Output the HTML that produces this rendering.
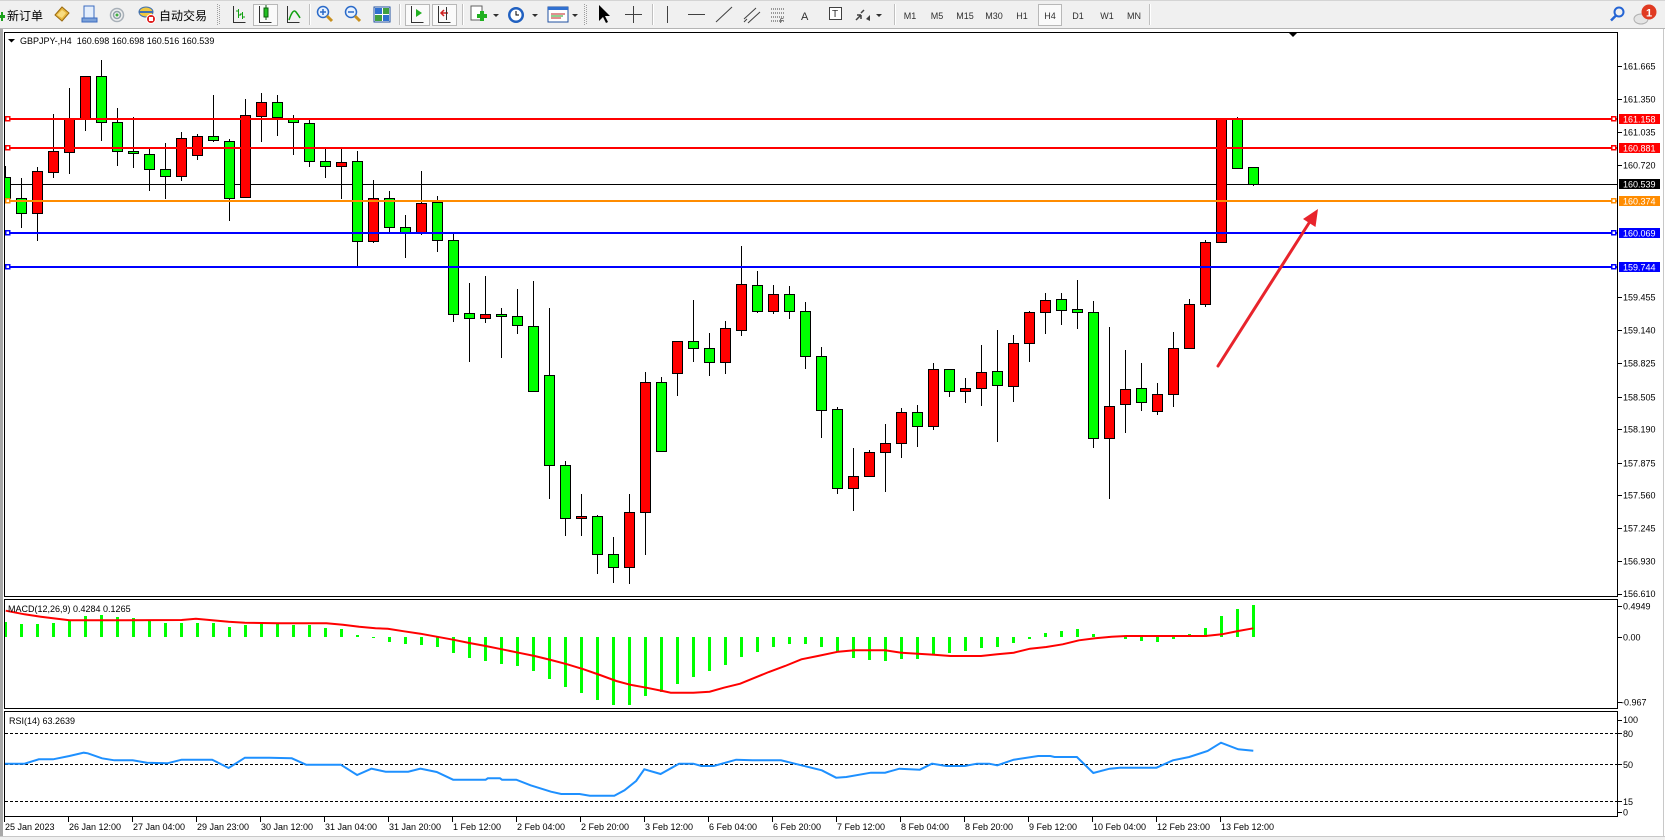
<!DOCTYPE html>
<html><head><meta charset="utf-8"><title>GBPJPY H4</title>
<style>
html,body{margin:0;padding:0;background:#fff;overflow:hidden;width:1665px;height:840px}
svg{display:block}
text{font-family:"Liberation Sans","Noto Sans CJK SC",sans-serif}
</style></head><body>
<svg width="1665" height="840" viewBox="0 0 1665 840" xmlns="http://www.w3.org/2000/svg">
<defs>
<clipPath id="cm"><rect x="5" y="33" width="1612" height="563"/></clipPath>
<clipPath id="cd"><rect x="5" y="600" width="1612" height="108"/></clipPath>
<clipPath id="cr"><rect x="5" y="712" width="1612" height="104"/></clipPath>
</defs>
<rect x="0" y="0" width="1665" height="840" fill="#fff"/>
<!-- toolbar -->
<rect x="0" y="0" width="1665" height="29" fill="#f0f0f0"/>
<line x1="0" y1="0.5" x2="1665" y2="0.5" stroke="#d4d4d4"/>
<line x1="0" y1="28.5" x2="1665" y2="28.5" stroke="#b4b4b4"/>
<g shape-rendering="crispEdges">
<rect x="0" y="29" width="3" height="808" fill="#a8a8a8"/>
<line x1="1663.5" y1="29" x2="1663.5" y2="836" stroke="#c8c8c8"/>
<rect x="0" y="836" width="1665" height="4" fill="#f0f0f0"/>
<line x1="0" y1="836.5" x2="1665" y2="836.5" stroke="#c8c8c8"/>
</g>
<!-- toolbar icons -->
<path d="M0 15h5v3H0z M1 12h2v9H1z" fill="#1aa01a"/>
<text x="7" y="20" font-size="12" fill="#000">新订单</text>
<polygon points="55,15 62,7 69,13 62,21" fill="#e8b840" stroke="#9a6a10"/>
<polygon points="57,15 62,10 66,13 62,18" fill="#f8dc80"/>
<rect x="84" y="6" width="10" height="12" fill="#e4eefc" stroke="#3c6cc0"/>
<path d="M82 18h15v4H82z" fill="#7aa0d8" stroke="#3c6cc0"/>
<circle cx="117" cy="15" r="6.5" fill="none" stroke="#a8b0b8" stroke-width="1.5"/>
<circle cx="117" cy="15" r="3.5" fill="none" stroke="#90a0a8" stroke-width="1.5"/>
<circle cx="117" cy="15" r="1.5" fill="#40b040"/>
<ellipse cx="146" cy="12" rx="7" ry="5" fill="#f0c840" stroke="#4070b0"/>
<path d="M139 12h14" stroke="#4070b0" stroke-width="2"/>
<circle cx="151" cy="19" r="4.5" fill="#e02020" stroke="#fff"/>
<rect x="149" y="17" width="4" height="4" fill="#fff"/>
<text x="159" y="20" font-size="12" fill="#000">自动交易</text>
<g stroke="#a0a0a0" stroke-dasharray="1,1">
<line x1="217.5" y1="4" x2="217.5" y2="25"/><line x1="219.5" y1="5" x2="219.5" y2="25"/>
<line x1="584.5" y1="4" x2="584.5" y2="25"/><line x1="586.5" y1="5" x2="586.5" y2="25"/>
</g>
<g stroke="#c0c0c0"><line x1="309.5" y1="4" x2="309.5" y2="25"/><line x1="399.5" y1="4" x2="399.5" y2="25"/><line x1="462.5" y1="4" x2="462.5" y2="25"/><line x1="652.5" y1="4" x2="652.5" y2="25"/><line x1="894.5" y1="4" x2="894.5" y2="25"/><line x1="1149.5" y1="4" x2="1149.5" y2="25"/></g>
<g stroke="#fff"><line x1="310.5" y1="4" x2="310.5" y2="25"/><line x1="400.5" y1="4" x2="400.5" y2="25"/><line x1="463.5" y1="4" x2="463.5" y2="25"/><line x1="653.5" y1="4" x2="653.5" y2="25"/><line x1="895.5" y1="4" x2="895.5" y2="25"/><line x1="1150.5" y1="4" x2="1150.5" y2="25"/></g>
<!-- pressed buttons -->
<g fill="#fafafa" stroke="#b8b8b8" shape-rendering="crispEdges">
<rect x="253.5" y="4.5" width="24" height="21"/>
<rect x="405.5" y="4.5" width="24" height="21"/>
<rect x="432.5" y="4.5" width="24" height="21"/>
<rect x="1038.5" y="4.5" width="23" height="21"/>
</g>
<g stroke="#303030" fill="none" shape-rendering="crispEdges">
<path d="M233.5 6v16.5h12"/><path d="M259.5 6v16.5h12"/><path d="M287.5 6v16.5h12"/>
<path d="M411.5 6v16.5h12"/><path d="M438.5 6v16.5h12"/>
</g>
<path d="M238.5 9v9 M236 11h2.5 M238.5 15h2.5 M242.5 12v7 M240 14h2.5 M242.5 17h2.5" stroke="#10a010" fill="none"/>
<rect x="264" y="8" width="4" height="9" fill="#20c020" stroke="#106010"/>
<path d="M266 5v3 M266 17v3" stroke="#106010"/>
<path d="M289 20 Q293 8 296 12 T300 18" stroke="#10a010" stroke-width="1.5" fill="none"/>
<polygon points="416,9 422,13 416,17" fill="#20b020"/>
<path d="M448 13h-6 M444 10l-3 3 3 3" stroke="#d02020" stroke-width="1.5" fill="none"/>
<path d="M446.5 7v13" stroke="#303030"/>
<circle cx="323" cy="12" r="5.5" fill="#e8f2ff" stroke="#2a6ac8" stroke-width="1.5"/>
<path d="M320 12h6 M323 9v6" stroke="#2a6ac8" stroke-width="1.5"/>
<path d="M327 16l5 5" stroke="#c89020" stroke-width="3"/>
<circle cx="351" cy="12" r="5.5" fill="#e8f2ff" stroke="#2a6ac8" stroke-width="1.5"/>
<path d="M348 12h6" stroke="#2a6ac8" stroke-width="1.5"/>
<path d="M355 16l5 5" stroke="#c89020" stroke-width="3"/>
<rect x="374" y="7" width="16" height="15" fill="#fff" stroke="#2050a0"/>
<rect x="375" y="8" width="7" height="6" fill="#3070d0"/><rect x="383" y="8" width="6" height="6" fill="#40a040"/>
<rect x="375" y="15" width="7" height="6" fill="#40a040"/><rect x="383" y="15" width="6" height="6" fill="#3070d0"/>
<rect x="471" y="6" width="11" height="14" fill="#fff" stroke="#606060"/>
<path d="M477 16h10 M482 11v10" stroke="#20b020" stroke-width="4"/>
<polygon points="493,14 499,14 496,17" fill="#303030"/>
<circle cx="516" cy="15" r="8" fill="#2060c0"/><circle cx="516" cy="15" r="5.5" fill="#fff"/>
<path d="M516 11v4h3" stroke="#000" fill="none"/>
<polygon points="532,14 538,14 535,17" fill="#303030"/>
<rect x="548" y="7" width="20" height="15" fill="#fff" stroke="#2050a0"/>
<rect x="548" y="7" width="20" height="3" fill="#3070d0"/>
<path d="M551 14h14 M551 18h10" stroke="#c02020"/><path d="M551 16h12" stroke="#20a020"/>
<polygon points="572,14 578,14 575,17" fill="#303030"/>
<polygon points="599,5 599,21 603,17 606,23 608,22 605,16 610,16" fill="#000"/>
<path d="M633.5 6v17 M625 14.5h17" stroke="#404040"/>
<path d="M667.5 6v17" stroke="#404040"/>
<path d="M688 14.5h17" stroke="#404040"/>
<path d="M716 22l16-15" stroke="#404040"/>
<path d="M744 19l12-11 M748 23l12-11 M744 22l3-3" stroke="#404040"/>
<path d="M771 9h14 M771 13h14 M771 17h14 M771 21h14" stroke="#404040" stroke-dasharray="1,1"/>
<text x="780" y="23" font-size="6" fill="#000">F</text>
<text x="801" y="20" font-size="11" fill="#303030">A</text>
<rect x="829.5" y="7.5" width="12" height="12" fill="#fff" stroke="#404040"/>
<text x="832" y="17" font-size="10" fill="#303030">T</text>
<path d="M856 20l5-5 M861 15v4 M861 15h-4 M864 10l-3 3" stroke="#404040" stroke-width="1.5" fill="none"/>
<polygon points="866,19 870,15 870,21" fill="#404040"/>
<polygon points="876,14 882,14 879,17" fill="#303030"/>
<g font-size="9" fill="#303030" text-anchor="middle">
<text x="910" y="19">M1</text><text x="937" y="19">M5</text><text x="965" y="19">M15</text><text x="994" y="19">M30</text><text x="1022" y="19">H1</text><text x="1050" y="19">H4</text><text x="1078" y="19">D1</text><text x="1107" y="19">W1</text><text x="1134" y="19">MN</text>
</g>
<circle cx="1619" cy="12" r="4.5" fill="none" stroke="#2464d4" stroke-width="2"/>
<path d="M1616 15.5l-5 5" stroke="#2464d4" stroke-width="2.5"/>
<ellipse cx="1641" cy="19" rx="7" ry="5" fill="#e4e4e4" stroke="#b0b0b0"/>
<circle cx="1649" cy="12" r="7.5" fill="#e03a22"/>
<text x="1649" y="16.5" font-size="11" fill="#fff" text-anchor="middle" font-weight="bold">1</text>

<!-- panel frames -->
<g fill="none" stroke="#000" shape-rendering="crispEdges">
<rect x="4.5" y="32.5" width="1613" height="564"/>
<rect x="4.5" y="599.5" width="1613" height="109"/>
<rect x="4.5" y="711.5" width="1613" height="105"/>
</g>
<polygon points="1289,33 1297,33 1293,37" fill="#000"/>
<polygon points="8,39 15,39 11.5,42.5" fill="#000"/>
<text x="20" y="44" font-size="9" fill="#000">GBPJPY-,H4&#160;&#160;160.698 160.698 160.516 160.539</text>

<!-- main chart -->
<g clip-path="url(#cm)" shape-rendering="crispEdges">
<line x1="5" y1="184.5" x2="1617" y2="184.5" stroke="#000"/>
<path fill="none" stroke="#000" d="M5.5 166V198M21.5 178V228M37.5 167V241M53.5 114V178M69.5 88V174M85.5 76V131M101.5 60V141M117.5 108V166M133.5 117V168M149.5 149V191M165.5 143V199M181.5 132V181M197.5 134V160M213.5 95V142M229.5 139V221M245.5 99V197M261.5 93V142M277.5 95V136M293.5 115V155M309.5 120V167M325.5 147V178M341.5 148V199M357.5 151V266M373.5 180V243M389.5 191V232M405.5 215V258M421.5 171V235M437.5 196V252M453.5 233V322M469.5 283V362M485.5 276V323M501.5 308V358M517.5 289V334M533.5 281V391M549.5 308V499M565.5 461V536M581.5 494V536M597.5 515V574M613.5 537V583M629.5 494V584M645.5 372V555M661.5 377V451M677.5 341V396M693.5 300V362M709.5 333V376M725.5 321V374M741.5 246V336M757.5 271V313M773.5 285V314M789.5 286V319M805.5 302V369M821.5 347V438M837.5 407V494M853.5 448V511M869.5 450V476M885.5 424V492M901.5 408V458M917.5 405V447M933.5 363V430M949.5 369V397M965.5 378V403M981.5 345V406M997.5 330V442M1013.5 335V402M1029.5 311V362M1045.5 293V334M1061.5 293V325M1077.5 280V329M1093.5 301V448M1109.5 327V499M1125.5 350V433M1141.5 363V411M1157.5 383V415M1173.5 332V407M1189.5 299V348M1205.5 240V307M1221.5 118V243M1237.5 117V169M1253.5 167V186"/>
<g fill="#ff0000" stroke="#000">
<rect x="32.5" y="171.5" width="10" height="42"/>
<rect x="48.5" y="151.5" width="10" height="21"/>
<rect x="64.5" y="119.5" width="10" height="33"/>
<rect x="80.5" y="76.5" width="10" height="43"/>
<rect x="176.5" y="138.5" width="10" height="38"/>
<rect x="192.5" y="136.5" width="10" height="19"/>
<rect x="240.5" y="115.5" width="10" height="82"/>
<rect x="256.5" y="102.5" width="10" height="14"/>
<rect x="336.5" y="162.5" width="10" height="4"/>
<rect x="368.5" y="198.5" width="10" height="43"/>
<rect x="416.5" y="203.5" width="10" height="29"/>
<rect x="480.5" y="314.5" width="10" height="4"/>
<rect x="576.5" y="516.5" width="10" height="2"/>
<rect x="624.5" y="512.5" width="10" height="55"/>
<rect x="640.5" y="382.5" width="10" height="130"/>
<rect x="672.5" y="341.5" width="10" height="32"/>
<rect x="720.5" y="328.5" width="10" height="34"/>
<rect x="736.5" y="284.5" width="10" height="46"/>
<rect x="768.5" y="294.5" width="10" height="17"/>
<rect x="848.5" y="476.5" width="10" height="12"/>
<rect x="864.5" y="452.5" width="10" height="24"/>
<rect x="880.5" y="443.5" width="10" height="9"/>
<rect x="896.5" y="412.5" width="10" height="31"/>
<rect x="928.5" y="369.5" width="10" height="57"/>
<rect x="960.5" y="388.5" width="10" height="3"/>
<rect x="976.5" y="372.5" width="10" height="16"/>
<rect x="1008.5" y="343.5" width="10" height="43"/>
<rect x="1024.5" y="312.5" width="10" height="31"/>
<rect x="1040.5" y="300.5" width="10" height="12"/>
<rect x="1104.5" y="406.5" width="10" height="32"/>
<rect x="1120.5" y="389.5" width="10" height="15"/>
<rect x="1152.5" y="394.5" width="10" height="17"/>
<rect x="1168.5" y="348.5" width="10" height="46"/>
<rect x="1184.5" y="304.5" width="10" height="44"/>
<rect x="1200.5" y="242.5" width="10" height="62"/>
<rect x="1216.5" y="118.5" width="10" height="124"/>
</g>
<g fill="#00ff00" stroke="#000">
<rect x="0.5" y="177.5" width="10" height="21"/>
<rect x="16.5" y="198.5" width="10" height="15"/>
<rect x="96.5" y="76.5" width="10" height="46"/>
<rect x="112.5" y="122.5" width="10" height="29"/>
<rect x="128.5" y="151.5" width="10" height="2"/>
<rect x="144.5" y="154.5" width="10" height="15"/>
<rect x="160.5" y="169.5" width="10" height="7"/>
<rect x="208.5" y="136.5" width="10" height="4"/>
<rect x="224.5" y="141.5" width="10" height="57"/>
<rect x="272.5" y="102.5" width="10" height="15"/>
<rect x="288.5" y="119.5" width="10" height="3"/>
<rect x="304.5" y="123.5" width="10" height="38"/>
<rect x="320.5" y="161.5" width="10" height="5"/>
<rect x="352.5" y="161.5" width="10" height="80"/>
<rect x="384.5" y="198.5" width="10" height="29"/>
<rect x="400.5" y="227.5" width="10" height="5"/>
<rect x="432.5" y="202.5" width="10" height="38"/>
<rect x="448.5" y="240.5" width="10" height="74"/>
<rect x="464.5" y="313.5" width="10" height="5"/>
<rect x="496.5" y="314.5" width="10" height="2"/>
<rect x="512.5" y="316.5" width="10" height="9"/>
<rect x="528.5" y="326.5" width="10" height="65"/>
<rect x="544.5" y="375.5" width="10" height="90"/>
<rect x="560.5" y="465.5" width="10" height="53"/>
<rect x="592.5" y="516.5" width="10" height="38"/>
<rect x="608.5" y="554.5" width="10" height="13"/>
<rect x="656.5" y="382.5" width="10" height="69"/>
<rect x="688.5" y="341.5" width="10" height="7"/>
<rect x="704.5" y="348.5" width="10" height="14"/>
<rect x="752.5" y="285.5" width="10" height="26"/>
<rect x="784.5" y="294.5" width="10" height="17"/>
<rect x="800.5" y="311.5" width="10" height="45"/>
<rect x="816.5" y="356.5" width="10" height="54"/>
<rect x="832.5" y="409.5" width="10" height="79"/>
<rect x="912.5" y="412.5" width="10" height="14"/>
<rect x="944.5" y="369.5" width="10" height="22"/>
<rect x="992.5" y="371.5" width="10" height="14"/>
<rect x="1056.5" y="299.5" width="10" height="11"/>
<rect x="1072.5" y="309.5" width="10" height="3"/>
<rect x="1088.5" y="312.5" width="10" height="126"/>
<rect x="1136.5" y="388.5" width="10" height="14"/>
<rect x="1232.5" y="118.5" width="10" height="50"/>
<rect x="1248.5" y="167.5" width="10" height="17"/>
</g>
<!-- level lines -->
<g stroke-width="2">
<line x1="5" y1="119" x2="1617" y2="119" stroke="#ff0000"/>
<line x1="5" y1="148" x2="1617" y2="148" stroke="#ff0000"/>
<line x1="5" y1="201" x2="1617" y2="201" stroke="#ff8c00"/>
<line x1="5" y1="233" x2="1617" y2="233" stroke="#0000ff"/>
<line x1="5" y1="267" x2="1617" y2="267" stroke="#0000ff"/>
</g>
<g fill="#fff" stroke-width="1.5">
<rect x="5.5" y="116.5" width="4" height="4" stroke="#ff0000"/><rect x="1611.5" y="116.5" width="4" height="4" stroke="#ff0000"/>
<rect x="5.5" y="145.5" width="4" height="4" stroke="#ff0000"/><rect x="1611.5" y="145.5" width="4" height="4" stroke="#ff0000"/>
<rect x="5.5" y="198.5" width="4" height="4" stroke="#ff8c00"/><rect x="1611.5" y="198.5" width="4" height="4" stroke="#ff8c00"/>
<rect x="5.5" y="230.5" width="4" height="4" stroke="#0000ff"/><rect x="1611.5" y="230.5" width="4" height="4" stroke="#0000ff"/>
<rect x="5.5" y="264.5" width="4" height="4" stroke="#0000ff"/><rect x="1611.5" y="264.5" width="4" height="4" stroke="#0000ff"/>
</g>
</g>
<!-- red arrow -->
<line x1="1218" y1="366" x2="1309" y2="223" stroke="#e8242c" stroke-width="3" stroke-linecap="round"/>
<polygon points="1318,209 1315.5,227 1303,219" fill="#e8242c"/>

<!-- price scale -->
<g stroke="#000" shape-rendering="crispEdges">
<path d="M1618 66.5h4M1618 99.5h4M1618 132.5h4M1618 165.5h4M1618 297.5h4M1618 330.5h4M1618 363.5h4M1618 397.5h4M1618 429.5h4M1618 463.5h4M1618 495.5h4M1618 528.5h4M1618 561.5h4M1618 594.5h4"/>
</g>
<g font-size="9" fill="#000">
<text x="1623" y="69.5">161.665</text>
<text x="1623" y="102.5">161.350</text>
<text x="1623" y="135.5">161.035</text>
<text x="1623" y="168.5">160.720</text>
<text x="1623" y="300.5">159.455</text>
<text x="1623" y="333.5">159.140</text>
<text x="1623" y="366.5">158.825</text>
<text x="1623" y="400.5">158.505</text>
<text x="1623" y="432.5">158.190</text>
<text x="1623" y="466.5">157.875</text>
<text x="1623" y="498.5">157.560</text>
<text x="1623" y="531.5">157.245</text>
<text x="1623" y="564.5">156.930</text>
<text x="1623" y="597">156.610</text>
</g>
<g shape-rendering="crispEdges">
<rect x="1619" y="114" width="41" height="10" fill="#ff0000"/>
<rect x="1619" y="143" width="41" height="10" fill="#ff0000"/>
<rect x="1619" y="179" width="41" height="10" fill="#000"/>
<rect x="1619" y="196" width="41" height="10" fill="#ff8c00"/>
<rect x="1619" y="228" width="41" height="10" fill="#0000ff"/>
<rect x="1619" y="262" width="41" height="10" fill="#0000ff"/>
</g>
<g font-size="9" fill="#fff">
<text x="1623" y="122.5">161.158</text>
<text x="1623" y="151.5">160.881</text>
<text x="1623" y="187.5">160.539</text>
<text x="1623" y="204.5">160.374</text>
<text x="1623" y="236.5">160.069</text>
<text x="1623" y="270.5">159.744</text>
</g>

<!-- MACD -->
<g clip-path="url(#cd)">
<path fill="none" stroke="#00ff00" stroke-width="3" shape-rendering="crispEdges" d="M5.5 637V622M21.5 637V624M37.5 637V624M53.5 637V623M69.5 637V621M85.5 637V616M101.5 637V615M117.5 637V617M133.5 637V618M149.5 637V620M165.5 637V623M181.5 637V623M197.5 637V623M213.5 637V623M229.5 637V627M245.5 637V625M261.5 637V624M277.5 637V624M293.5 637V625M309.5 637V625M325.5 637V628M341.5 637V629M357.5 637V635M373.5 637V638M389.5 637V642M405.5 637V644M421.5 637V645M437.5 637V647M453.5 637V653M469.5 637V658M485.5 637V661M501.5 637V664M517.5 637V666M533.5 637V671M549.5 637V679M565.5 637V687M581.5 637V693M597.5 637V700M613.5 637V705M629.5 637V705M645.5 637V696M661.5 637V692M677.5 637V684M693.5 637V677M709.5 637V671M725.5 637V665M741.5 637V657M757.5 637V652M773.5 637V647M789.5 637V644M805.5 637V644M821.5 637V647M837.5 637V652M853.5 637V658M869.5 637V660M885.5 637V661M901.5 637V659M917.5 637V659M933.5 637V654M949.5 637V653M965.5 637V651M981.5 637V648M997.5 637V647M1013.5 637V643M1029.5 637V639M1045.5 637V633M1061.5 637V631M1077.5 637V629M1093.5 637V634M1109.5 637V636M1125.5 637V639M1141.5 637V641M1157.5 637V642M1173.5 637V639M1189.5 637V634M1205.5 637V628M1221.5 637V616M1237.5 637V609M1253.5 637V605"/>
<polyline fill="none" stroke="#ff0000" stroke-width="2" points="5.7,610.7 24.5,614.3 40.8,616.7 69.4,620.3 118.4,620.3 181.6,620 195.9,618.7 212.2,620.3 228.6,621.7 244.9,622.7 277.6,623.3 326.5,623.3 342.9,624.7 359.2,626.7 375.5,628.3 387.8,628.7 404.1,631.3 420.4,633.7 436.7,636.7 453.1,639.7 469.4,643 485.7,646 502,649.3 518.4,652.7 534.7,656 551,660 567.3,664.3 583.7,669.3 600,675 616.3,681 630,684.7 646.3,687.7 662.7,691 670.8,692.7 693.3,692.7 709.6,691.7 723.9,687.7 740.2,683.7 752.4,678.7 768.8,672 785.1,666 801.4,659.3 817.8,656 838.2,651.7 854.5,650.3 885.1,650.3 901.4,652.7 917.8,653.7 934.1,654.7 950.4,656 981,656 997.3,654.3 1013.7,652.7 1030,648.7 1046.3,647 1062.7,644.3 1079,640.3 1095.3,638.3 1111.6,636.7 1125.9,636 1205.5,636 1221.8,634.3 1238.2,631 1253.3,628.3"/>
</g>
<text x="8" y="612" font-size="9" fill="#000">MACD(12,26,9) 0.4284 0.1265</text>
<g stroke="#000" shape-rendering="crispEdges"><path d="M1618 606.5h4M1618 637.5h4M1618 702.5h4"/></g>
<g font-size="9" fill="#000">
<text x="1623" y="609.5">0.4949</text>
<text x="1623" y="640.5">0.00</text>
<text x="1621" y="705.5">-0.967</text>
</g>

<!-- RSI -->
<g clip-path="url(#cr)">
<g stroke="#000" stroke-dasharray="3,2" shape-rendering="crispEdges">
<line x1="5" y1="733.5" x2="1617" y2="733.5"/>
<line x1="5" y1="764.5" x2="1617" y2="764.5"/>
<line x1="5" y1="801.5" x2="1617" y2="801.5"/>
</g>
<polyline fill="none" stroke="#1e90ff" stroke-width="2" points="4.1,763.7 24.5,763.7 38.8,759.3 53.1,759.3 69.4,756 83.7,752.7 87.8,753.3 102,758.3 114.3,760.3 132.7,760.3 146.9,762.7 167.3,763.3 181.6,759.7 212.2,759.7 228.6,768 244.9,757.7 269.4,757.7 291.8,758.3 306.1,764.7 340.8,764.7 357.1,775 371.4,768.7 385.7,771.7 408.2,771.7 420.4,768.7 436.7,772 453.1,779.7 485.7,779.7 487.8,778.3 500,778.3 502,779.7 516.3,779.7 530.6,785.3 551,791.7 561.2,794 579.6,794 589.8,795.7 614.3,795.7 624.5,790.3 636.1,781 644.3,769.3 660.6,774 679,763.7 693.3,763.7 701.4,766 713.7,766 736.1,759.7 752.4,760.3 781,760.3 793.3,763.3 821.8,770.3 836.1,777.7 846.3,777 870.8,772.7 885.1,772.7 899.4,768.7 919.8,769.7 932,763.7 946.3,766 964.7,766 976.9,763.7 989.2,763.7 997.3,765.3 1013.7,759.7 1038.2,756 1050.4,756 1054.5,757 1076.9,757 1093.3,773 1109.6,768.7 1119.8,767.7 1156.5,767.7 1172.9,760.3 1189.2,757 1207.6,751 1221,742.7 1238.2,749.3 1253.3,750.7"/>
</g>
<text x="9" y="724" font-size="9" fill="#000">RSI(14) 63.2639</text>
<g stroke="#000" shape-rendering="crispEdges"><path d="M1618 720.5h4M1618 733.5h4M1618 764.5h4M1618 801.5h4M1618 812.5h4"/></g>
<g font-size="9" fill="#000">
<text x="1623" y="723">100</text>
<text x="1623" y="737">80</text>
<text x="1623" y="768">50</text>
<text x="1623" y="805">15</text>
<text x="1623" y="815.5">0</text>
</g>

<!-- time axis -->
<path stroke="#000" shape-rendering="crispEdges" d="M4.5 817v5M68.5 817v5M132.5 817v5M196.5 817v5M260.5 817v5M324.5 817v5M388.5 817v5M452.5 817v5M516.5 817v5M580.5 817v5M644.5 817v5M708.5 817v5M772.5 817v5M836.5 817v5M900.5 817v5M964.5 817v5M1028.5 817v5M1092.5 817v5M1156.5 817v5M1220.5 817v5"/>
<g font-size="9" fill="#000">
<text x="5" y="830">25 Jan 2023</text>
<text x="69" y="830">26 Jan 12:00</text>
<text x="133" y="830">27 Jan 04:00</text>
<text x="197" y="830">29 Jan 23:00</text>
<text x="261" y="830">30 Jan 12:00</text>
<text x="325" y="830">31 Jan 04:00</text>
<text x="389" y="830">31 Jan 20:00</text>
<text x="453" y="830">1 Feb 12:00</text>
<text x="517" y="830">2 Feb 04:00</text>
<text x="581" y="830">2 Feb 20:00</text>
<text x="645" y="830">3 Feb 12:00</text>
<text x="709" y="830">6 Feb 04:00</text>
<text x="773" y="830">6 Feb 20:00</text>
<text x="837" y="830">7 Feb 12:00</text>
<text x="901" y="830">8 Feb 04:00</text>
<text x="965" y="830">8 Feb 20:00</text>
<text x="1029" y="830">9 Feb 12:00</text>
<text x="1093" y="830">10 Feb 04:00</text>
<text x="1157" y="830">12 Feb 23:00</text>
<text x="1221" y="830">13 Feb 12:00</text>
</g>
</svg>
</body></html>
